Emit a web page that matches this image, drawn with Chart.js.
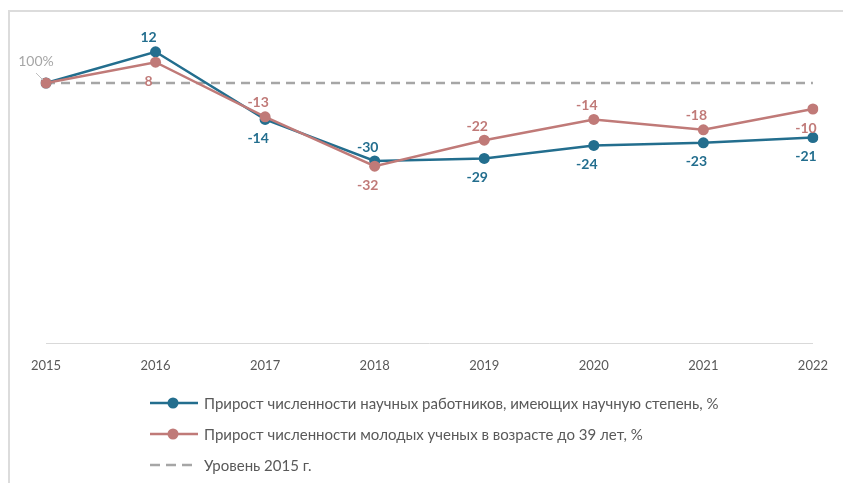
<!DOCTYPE html>
<html lang="ru">
<head>
<meta charset="UTF-8">
<title>Прирост численности научных работников</title>
<script src="https://cdn.jsdelivr.net/npm/chart.js"></script>
<style>
  html, body { margin: 0; padding: 0; background: #fff; overflow: hidden; }
  body { width: 843px; height: 483px; position: relative; font-family: Lato, "Open Sans", sans-serif; }
  .frame { position: absolute; left: 8px; top: 10px; width: 900px; height: 500px; border: 2px solid #dcdcdc; box-sizing: border-box; }
  .chart-box { position: absolute; left: 0; top: 0; width: 843px; height: 483px; }
  #legend { position: absolute; left: 150px; top: 387px; }
  .item { display: flex; align-items: center; height: 31px; font-size: 15px; color: #595959; white-space: nowrap; }
  .item svg { margin-right: 6px; }
</style>
</head>
<body>
<div class="frame"></div>
<div class="chart-box"><canvas id="chart"></canvas></div>
<div id="legend"></div>

<script>
const years = ['2015', '2016', '2017', '2018', '2019', '2020', '2021', '2022'];
const seriesNames = [
  'Прирост численности научных работников, имеющих научную степень, %',
  'Прирост численности молодых ученых в возрасте до 39 лет, %',
  'Уровень 2015 г.'
];
const withDegree = [0, 12, -14, -30, -29, -24, -23, -21];
const youngScientists = [0, 8, -13, -32, -22, -14, -18, -10];
const level2015 = [0, 0, 0, 0, 0, 0, 0, 0];
const baseLabel = '100%';

const BLUE = '#236e8e';
const RED = '#c07a78';
const GREY = '#a6a6a6';

// where each value label sits relative to its point (first point has no label)
const labelSides = [
  [null, 'up', 'down', 'up', 'down', 'down', 'down', 'down'],
  [null, 'down', 'up', 'down', 'up', 'up', 'up', 'down']
];

const pointLabels = {
  id: 'pointLabels',
  afterDatasetsDraw(chart) {
    const ctx = chart.ctx;
    ctx.save();
    ctx.textAlign = 'center';
    ctx.textBaseline = 'middle';
    ctx.font = 'bold 14px Lato, sans-serif';
    [0, 1].forEach(di => {
      const ds = chart.data.datasets[di];
      const meta = chart.getDatasetMeta(di);
      meta.data.forEach((pt, i) => {
        const side = labelSides[di][i];
        if (!side) return;
        ctx.fillStyle = ds.borderColor;
        ctx.fillText(String(ds.data[i]), pt.x - 7, side === 'up' ? pt.y - 14 : pt.y + 19);
      });
    });
    // 2015 = 100% label with leader line
    const p0 = chart.getDatasetMeta(0).data[0];
    ctx.font = '14px Lato, sans-serif';
    ctx.fillStyle = GREY;
    ctx.fillText(baseLabel, p0.x - 10, p0.y - 22);
    ctx.strokeStyle = '#bfbfbf';
    ctx.lineWidth = 1;
    ctx.beginPath();
    ctx.moveTo(p0.x - 10, p0.y - 10);
    ctx.lineTo(p0.x - 3, p0.y - 3);
    ctx.stroke();
    ctx.restore();
  }
};

const chart = new Chart(document.getElementById('chart'), {
  type: 'line',
  data: {
    labels: years,
    datasets: [
      {
        label: seriesNames[0], data: withDegree, order: 1,
        borderColor: BLUE, backgroundColor: BLUE, borderWidth: 2.5,
        pointRadius: 5.5, pointBackgroundColor: BLUE, pointBorderColor: BLUE, pointBorderWidth: 0
      },
      {
        label: seriesNames[1], data: youngScientists, order: 0,
        borderColor: RED, backgroundColor: RED, borderWidth: 2.5,
        pointRadius: 5.5, pointBackgroundColor: RED, pointBorderColor: RED, pointBorderWidth: 0
      },
      {
        label: seriesNames[2], data: level2015, order: 2,
        borderColor: GREY, borderWidth: 2.5, borderDash: [9, 6],
        pointRadius: 0
      }
    ]
  },
  options: {
    responsive: true,
    maintainAspectRatio: false,
    animation: false,
    layout: { padding: { left: 46, right: 24, top: 18, bottom: 100 } },
    plugins: {
      legend: { display: false },
      tooltip: { enabled: false }
    },
    scales: {
      x: {
        offset: false,
        grid: { display: false, drawTicks: false },
        border: { display: true, color: '#d9d9d9', width: 1 },
        ticks: { color: '#595959', padding: 15, font: { family: 'Lato', size: 13 } },
        afterFit(scale) { scale.height = 40; }
      },
      y: {
        display: false,
        min: -100,
        max: 25
      }
    }
  },
  plugins: [pointLabels]
});

// legend built from the datasets
const legend = document.getElementById('legend');
chart.data.datasets.forEach(ds => {
  const row = document.createElement('div');
  row.className = 'item';
  const dashed = !!ds.borderDash;
  const svg = dashed
    ? `<svg width="48" height="12"><line x1="0" y1="6" x2="48" y2="6" stroke="${ds.borderColor}" stroke-width="2.5" stroke-dasharray="10 6"/></svg>`
    : `<svg width="48" height="12"><line x1="0" y1="6" x2="48" y2="6" stroke="${ds.borderColor}" stroke-width="2.5"/><circle cx="23" cy="6" r="5.5" fill="${ds.borderColor}"/></svg>`;
  row.innerHTML = svg + '<span>' + ds.label + '</span>';
  legend.appendChild(row);
});
</script>
</body>
</html>
